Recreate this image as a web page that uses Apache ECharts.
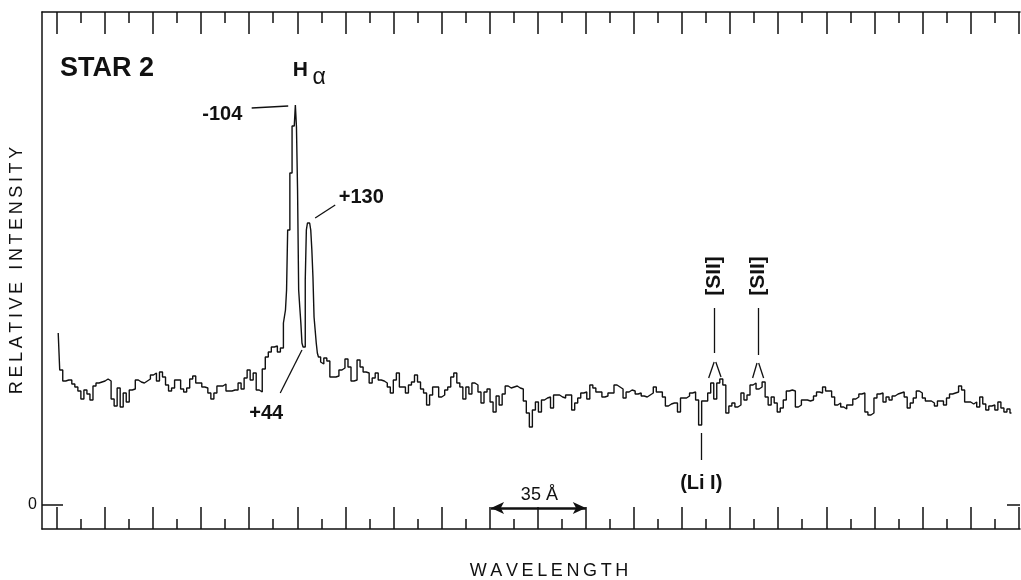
<!DOCTYPE html>
<html>
<head>
<meta charset="utf-8">
<title>STAR 2</title>
<script src="https://cdn.jsdelivr.net/npm/echarts@6/dist/echarts.min.js"></script>
<style>
html, body { margin: 0; padding: 0; background: #fff; }
#main { width: 1021px; height: 580px; }
</style>
</head>
<body>
<div id="main"></div>
<script>
// spectrum, wavelength in Angstrom, intensity in arbitrary units (0 = zero level)
var leftStart = 6475.5, leftStep = 1.1;
var leftVals = [172,135,124,125,125,121,118,114,106,115,
	111,105,119,122,123,124,126,124,106,99,
	117,98,112,103,115,116,125,123,122,124,
	126,130,132,124,133,128,120,114,117,125,
	125,116,113,117,126,129,122,122,118,117,
	112,106,112,119,119,121,114,114,115,115,
	122,116,127,135,125,132,115,113,136,148,
	153,158,159,153,157];

// H alpha double peak, finer sampling
var peakStart = 6558.0, peakStep = 0.4;
var peakVals = [182,195,215,275,275,332,332,379,379,379,
	400,378,315,215,198,182,162,158,158,225,
	275,282,282,282,275,255,228,188,175,162,
	152,148,148,143];

var rightStart = 6571.6, rightStep = 1.1;
var rightVals = [141,147,144,128,128,129,135,137,146,138,
	124,125,145,138,133,132,122,127,132,125,
	124,122,118,112,125,132,118,118,112,120,
	123,130,123,116,112,100,110,118,118,108,
	110,115,118,128,132,122,118,106,118,111,
	122,120,113,102,113,116,103,93,109,100,
	111,119,117,118,119,117,116,104,92,78,
	95,103,93,105,
	107,108,97,110,110,108,107,110,110,95,
	102,107,112,113,106,120,117,113,113,108,
	109,112,112,120,118,116,107,113,115,114,
	111,112,109,108,110,112,118,113,113,108,
	99,101,102,102,93,107,107,109,112,113,
	105,80,104,104,112,122,106,122,126,120,
	92,99,102,98,100,112,105,110,120,122,
	116,118,123,108,100,108,102,93,97,105,114,
	115,114,98,100,105,105,104,105,109,113,
	112,118,114,114,108,100,102,98,96,100,
	100,106,108,111,112,93,90,92,107,111,
	112,103,108,105,109,111,112,113,108,97,
	102,107,114,112,107,104,104,102,99,104,
	104,100,107,111,112,113,119,115,103,103,
	101,103,98,108,101,95,99,100,95,103,
	97,93,96,92];

// tick marks (17.5 A major, half of it minor)
var majorTicks = [6475,6492.5,6510,6527.5,6545,6562.5,6580,6597.5,6615,6632.5,6650,
	6667.5,6685,6702.5,6720,6737.5,6755,6772.5,6790,6807.5,6825];
var minorTicks = [6483.75,6501.25,6518.75,6536.25,6553.75,6571.25,6588.75,6606.25,6623.75,6641.25,
	6658.75,6676.25,6693.75,6711.25,6728.75,6746.25,6763.75,6781.25,6798.75,6816.25];
var zeroTick = [0];

// labels on the plot, in data coordinates
var noteNames = ['-104', '+130', '+44', 'H', 'α', '[SII]', '[SII]', '(Li I)', '35 Å'];
var noteCoords = [[6535.2,390.5],[6585.8,307.5],[6551.2,91.5],[6563.6,435],[6570.5,427],
	[6714.3,229],[6730.1,229],[6709.5,22],[6650.6,10]];

// pointer lines
var pointers = [
	[[6545.9,397],[6559.2,399]],
	[[6569.0,287],[6576.3,300]],
	[[6564.2,155],[6556.3,112]],
	[[6714.3,197],[6714.3,152]],
	[[6712.2,127],[6714.2,143]],
	[[6714.8,143],[6716.7,128]],
	[[6730.1,197],[6730.1,150]],
	[[6728.2,127],[6729.8,142]],
	[[6730.4,142],[6732.2,127]],
	[[6709.5,72],[6709.5,45]]
];
var scaleBar = [6633, 6667.5];
var scaleBarY = -3;

var xMin = 6469.6, xMax = 6825.5;
var yMin = -24, yMax = 493;

function toPairs(start, step, vals) {
	return vals.map(function(v, i) {
		return [+(start + i * step).toFixed(2), v];
	});
}

function spaced(s) {
	return s.split('').join('\u2009');
}

var ink = '#111';
var font = 'Liberation Sans, Arial, Helvetica, sans-serif';

function xAx(pos, ticks, len, line) {
	return {
		type: 'value',
		position: pos,
		min: xMin,
		max: xMax,
		axisLine: { show: line, onZero: false, lineStyle: { color: ink, width: 1.5 } },
		axisTick: { show: true, inside: true, length: len, customValues: ticks, lineStyle: { color: ink, width: 1.5 } },
		axisLabel: { show: false },
		splitLine: { show: false }
	};
}

var chart = echarts.init(document.getElementById('main'));

var spectrum = toPairs(leftStart, leftStep, leftVals)
	.concat(toPairs(peakStart, peakStep, peakVals))
	.concat(toPairs(rightStart, rightStep, rightVals));

var bottomMajor = xAx('bottom', majorTicks, 22, true);
bottomMajor.name = spaced('WAVELENGTH');
bottomMajor.nameLocation = 'middle';
bottomMajor.nameGap = 33;
bottomMajor.nameTextStyle = { color: ink, fontFamily: font, fontSize: 18, padding: [0, 0, 0, 36] };

var lineMarks = pointers.map(function(p) {
	return [{ coord: p[0] }, { coord: p[1] }];
});
lineMarks.push([
	{ coord: [scaleBar[0], scaleBarY], symbol: 'arrow', symbolSize: [9, 13], lineStyle: { width: 2.6 } },
	{ coord: [scaleBar[1], scaleBarY], symbol: 'arrow', symbolSize: [9, 13], lineStyle: { width: 2.6 } }
]);

var noteData = noteNames.map(function(n, i) {
	var item = { name: n, value: noteCoords[i] };
	if (n === '[SII]') item.label = { rotate: 90, fontSize: 21 };
	if (n === 'H') item.label = { fontSize: 21 };
	if (n === 'α') item.label = { fontSize: 23, fontWeight: 'normal' };
	if (n === '35 Å') item.label = { fontSize: 18, fontWeight: 'normal' };
	return item;
});

var option = {
	animation: false,
	backgroundColor: '#fff',
	title: {
		text: 'STAR 2',
		left: 55,
		top: 50,
		textStyle: { color: ink, fontFamily: font, fontSize: 27, fontWeight: 'bold' }
	},
	grid: { left: 42, right: 1, top: 12, bottom: 51, outerBoundsMode: 'none' },
	xAxis: [
		bottomMajor,
		xAx('bottom', minorTicks, 10, false),
		xAx('top', majorTicks, 22, true),
		xAx('top', minorTicks, 11, false)
	],
	yAxis: [{
		type: 'value',
		position: 'left',
		min: yMin,
		max: yMax,
		name: spaced('RELATIVE INTENSITY'),
		nameLocation: 'middle',
		nameGap: 16,
		nameMoveOverlap: false,
		nameTextStyle: { color: ink, fontFamily: font, fontSize: 18 },
		axisLine: { show: true, onZero: false, lineStyle: { color: ink, width: 1.5 } },
		axisTick: { show: true, inside: true, length: 21, customValues: zeroTick, lineStyle: { color: ink, width: 1.5 } },
		axisLabel: { show: true, customValues: zeroTick, margin: 5, color: ink, fontFamily: font, fontSize: 16 },
		splitLine: { show: false }
	}, {
		type: 'value',
		position: 'right',
		min: yMin,
		max: yMax,
		axisLine: { show: false, onZero: false },
		axisTick: { show: true, inside: true, length: 13, customValues: zeroTick, lineStyle: { color: ink, width: 1.5 } },
		axisLabel: { show: false },
		splitLine: { show: false }
	}],
	series: [{
		name: 'spectrum',
		type: 'line',
		step: 'middle',
		xAxisIndex: 0,
		yAxisIndex: 0,
		data: spectrum,
		symbol: 'none',
		lineStyle: { color: ink, width: 1.4 },
		silent: true,
		markLine: {
			silent: true,
			symbol: 'none',
			label: { show: false },
			lineStyle: { color: ink, width: 1.3, type: 'solid' },
			emphasis: { disabled: true },
			data: lineMarks
		}
	}, {
		name: 'notes',
		type: 'scatter',
		xAxisIndex: 0,
		yAxisIndex: 0,
		symbolSize: 0,
		silent: true,
		itemStyle: { color: ink, opacity: 1 },
		data: noteData,
		label: {
			show: true,
			position: [0, 0],
			align: 'center',
			verticalAlign: 'middle',
			formatter: '{b}',
			color: ink,
			opacity: 1,
			textBorderWidth: 0,
			fontFamily: font,
			fontSize: 20,
			fontWeight: 'bold'
		}
	}]
};

chart.setOption(option);
</script>
</body>
</html>
